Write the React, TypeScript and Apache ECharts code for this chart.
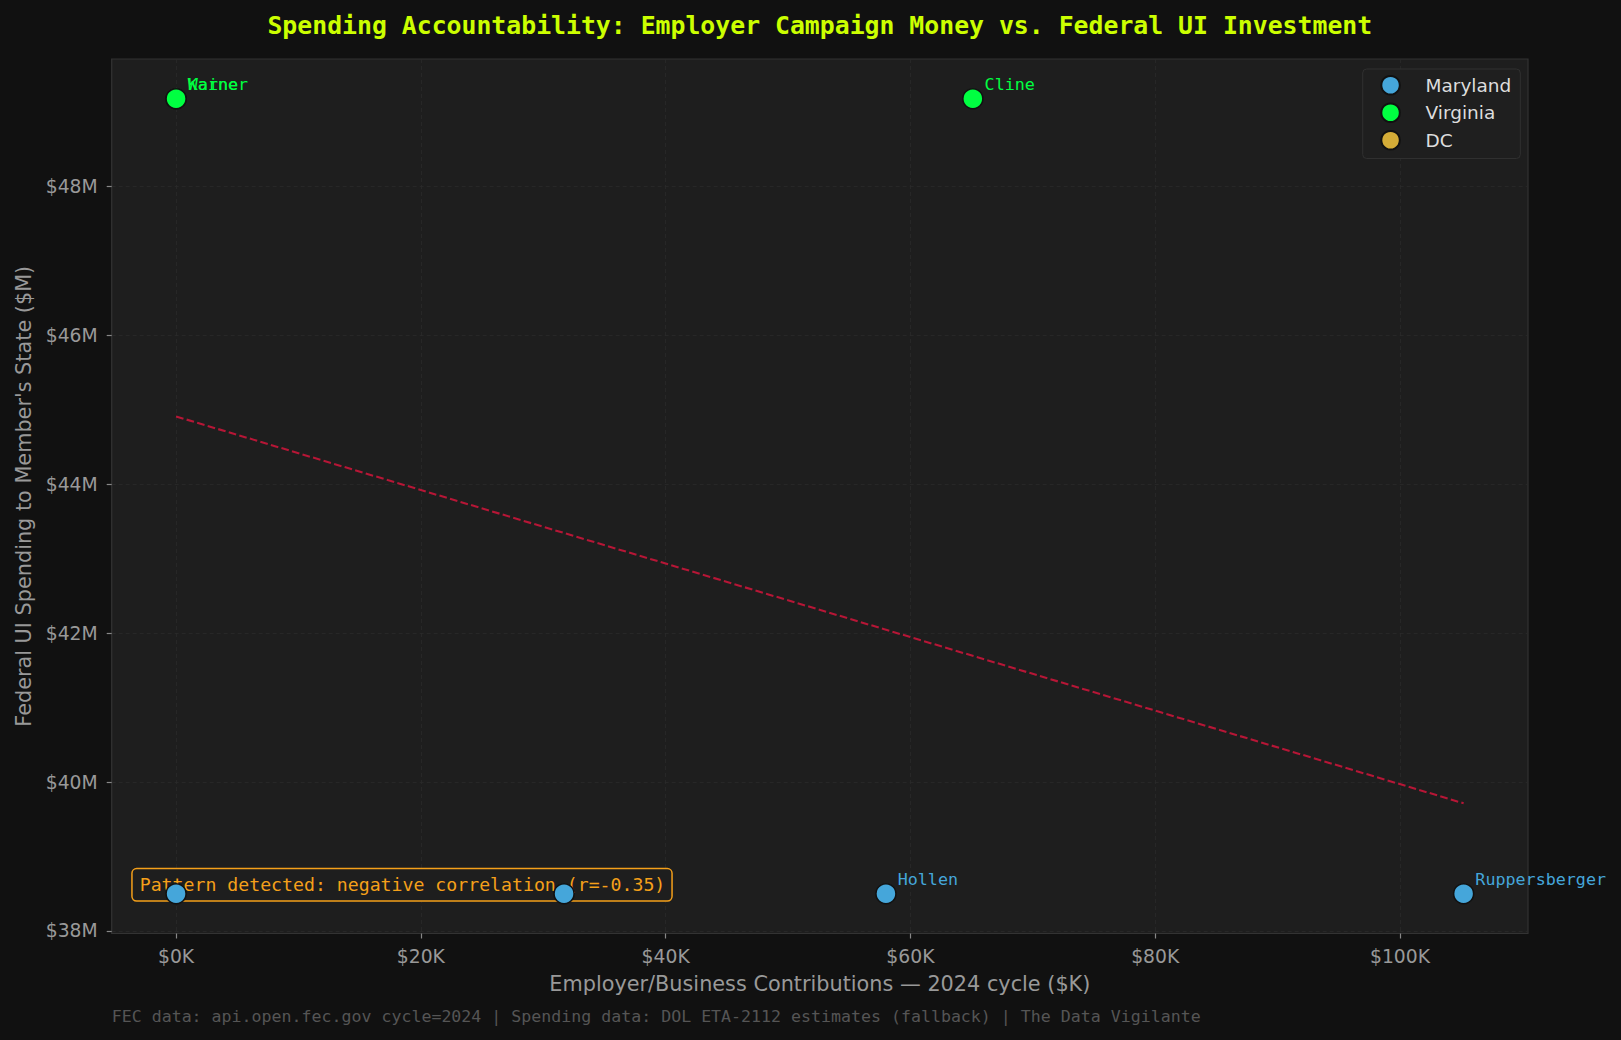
import React, { useEffect, useRef } from "react";
import * as echarts from "echarts";

const TITLE = "Spending Accountability: Employer Campaign Money vs. Federal UI Investment";
const X_NAME = "Employer/Business Contributions — 2024 cycle ($K)";
const Y_NAME = "Federal UI Spending to Member's State ($M)";
const FOOTNOTE = "FEC data: api.open.fec.gov cycle=2024 | Spending data: DOL ETA-2112 estimates (fallback) | The Data Vigilante";
const ANNOTATION = "Pattern detected: negative correlation (r=-0.35)";

const marylandNames = ["", "", "Hollen", "Ruppersberger"];
const marylandX = [0, 31.7, 58.0, 105.2];
const marylandY = [38.5, 38.5, 38.5, 38.5];

const virginiaNames = ["Warner", "Kaine", "Cline"];
const virginiaX = [0, 0, 65.1];
const virginiaY = [49.18, 49.18, 49.18];

const dcNames: string[] = [];
const dcX: number[] = [];
const dcY: number[] = [];

const xTicks = [0, 20, 40, 60, 80, 100];
const yTicks = [38, 40, 42, 44, 46, 48];

const COLORS = { Maryland: "#45a6da", Virginia: "#00ff41", DC: "#d4ac37" };
const MONO = "'DejaVu Sans Mono', monospace";
const SANS = "'DejaVu Sans', sans-serif";

function pts(names: string[], xs: number[], ys: number[]) {
  return xs.map((x, i) => ({ name: names[i], value: [x, ys[i]] }));
}

export default function App() {
  const ref = useRef<HTMLDivElement>(null);
  useEffect(() => {
    document.body.style.margin = "0";
    document.body.style.background = "#111111";
    const chart = echarts.init(ref.current!, undefined, { renderer: "svg" });

    const allX = [...marylandX, ...virginiaX, ...dcX];
    const allY = [...marylandY, ...virginiaY, ...dcY];
    const n = allX.length;
    const mx = allX.reduce((a, b) => a + b, 0) / n;
    const my = allY.reduce((a, b) => a + b, 0) / n;
    let sxy = 0, sxx = 0;
    for (let i = 0; i < n; i++) {
      sxy += (allX[i] - mx) * (allY[i] - my);
      sxx += (allX[i] - mx) ** 2;
    }
    const slope = sxy / sxx;
    const icpt = my - slope * mx;
    const x0 = Math.min(...allX), x1 = Math.max(...allX);
    const y0 = Math.min(...allY), y1 = Math.max(...allY);
    const xr = x1 - x0, yr = y1 - y0;

    const labelFor = (color: string) => ({
      show: true,
      position: "right",
      distance: 1,
      offset: [0, -15],
      formatter: "{b}",
      color,
      fontFamily: MONO,
      fontSize: 16.7,
    });

    const scatter = (name: string, color: string, data: any[]) => ({
      name,
      type: "scatter",
      symbol: "circle",
      symbolSize: 20,
      z: 5,
      itemStyle: { color, borderColor: "#111111", borderWidth: 1.5, opacity: 1 },
      label: labelFor(color),
      emphasis: { disabled: true },
      data,
    });

    chart.setOption({
      animation: false,
      backgroundColor: "#111111",
      grid: {
        left: 111.7,
        right: 93,
        top: 59,
        bottom: 106.5,
        show: true,
        backgroundColor: "#1e1e1e",
        borderColor: "#333333",
        borderWidth: 1.2,
      },
      legend: {
        orient: "vertical",
        left: 1362.7,
        top: 69,
        padding: [6, 9, 8, 17.6],
        itemWidth: 18.5,
        itemHeight: 18.5,
        itemGap: 7,
        icon: "circle",
        backgroundColor: "#1f1f1f",
        borderColor: "#303030",
        borderWidth: 1,
        borderRadius: 4,
        textStyle: { color: "#dddddd", fontFamily: SANS, fontSize: 18.5, lineHeight: 18.5, padding: [0, 0, 0, 20.7] },
        data: ["Maryland", "Virginia", "DC"],
      },
      xAxis: {
        type: "value",
        min: x0 - 0.05 * xr,
        max: x1 + 0.05 * xr,
        name: X_NAME,
        nameLocation: "middle",
        nameGap: 40,
        nameTextStyle: { color: "#999999", fontFamily: SANS, fontSize: 20.8 },
        axisLine: { show: false, onZero: false },
        axisTick: { show: true, length: 5, lineStyle: { color: "#888888", width: 1.2 }, customValues: xTicks },
        axisLabel: {
          color: "#999999",
          fontFamily: SANS,
          fontSize: 18.75,
          margin: 13,
          customValues: xTicks,
          formatter: (v: number) => (xTicks.includes(Math.round(v * 1000) / 1000) ? `$${v}K` : ""),
        },
        splitLine: { show: true, lineStyle: { color: "#2a2a2a", type: [4, 3], width: 0.8 } },
      },
      yAxis: {
        type: "value",
        min: y0 - 0.05 * yr,
        max: y1 + 0.05 * yr,
        name: Y_NAME,
        nameLocation: "middle",
        nameRotate: 90,
        nameGap: 76,
        nameTextStyle: { color: "#999999", fontFamily: SANS, fontSize: 20.8 },
        axisLine: { show: false, onZero: false },
        axisTick: { show: true, length: 5, lineStyle: { color: "#888888", width: 1.2 }, customValues: yTicks },
        axisLabel: {
          color: "#999999",
          fontFamily: SANS,
          fontSize: 18.75,
          margin: 14,
          customValues: yTicks,
          formatter: (v: number) => (yTicks.includes(Math.round(v * 1000) / 1000) ? `$${v}M` : ""),
        },
        splitLine: { show: true, lineStyle: { color: "#2a2a2a", type: [4, 3], width: 0.8 } },
      },
      series: [
        scatter("Maryland", COLORS.Maryland, pts(marylandNames, marylandX, marylandY)),
        scatter("Virginia", COLORS.Virginia, pts(virginiaNames, virginiaX, virginiaY)),
        scatter("DC", COLORS.DC, pts(dcNames, dcX, dcY)),
        {
          name: "trend",
          type: "line",
          showSymbol: false,
          symbol: "none",
          z: 3,
          silent: true,
          lineStyle: { color: "#dc143c", opacity: 0.8, width: 2.1, type: [7.7, 3.3] },
          data: [
            [x0, icpt + slope * x0],
            [x1, icpt + slope * x1],
          ],
        },
      ],
      graphic: [
        {
          type: "text",
          x: 819.8,
          y: 25,
          style: {
            text: TITLE,
            fill: "#ccff00",
            font: `bold 24.8px ${MONO}`,
            align: "center",
            verticalAlign: "middle",
          },
        },
        {
          type: "text",
          x: 111.7,
          y: 1016,
          style: {
            text: FOOTNOTE,
            fill: "#555555",
            font: `16.6px ${MONO}`,
            align: "left",
            verticalAlign: "middle",
          },
        },
        {
          type: "text",
          x: 132.7,
          y: 869.3,
          z: 1,
          style: {
            text: ANNOTATION,
            fill: "#f5a01a",
            font: `18.2px ${MONO}`,
            lineHeight: 22,
            align: "left",
            verticalAlign: "top",
            backgroundColor: "#1e1e1e",
            borderColor: "#f5a01a",
            borderWidth: 1.5,
            borderRadius: 4,
            padding: [4, 6, 5, 7],
          },
        },
      ],
    });
    return () => chart.dispose();
  }, []);
  return <div ref={ref} style={{ width: 1621, height: 1040 }} />;
}
